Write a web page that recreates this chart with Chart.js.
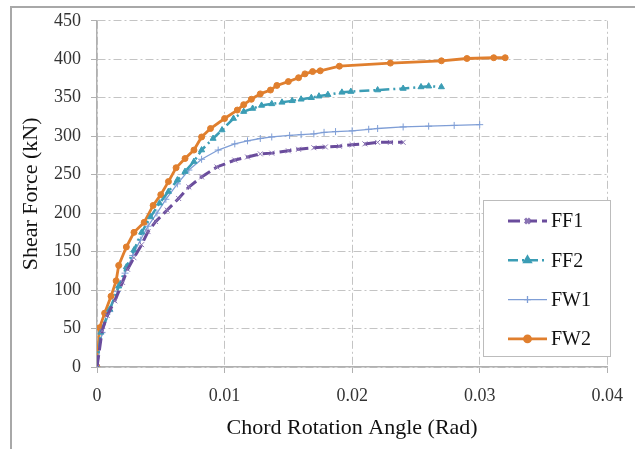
<!DOCTYPE html>
<html>
<head>
<meta charset="utf-8">
<script src="https://cdn.jsdelivr.net/npm/chart.js@4/dist/chart.umd.min.js"></script>
<style>
html, body { margin: 0; padding: 0; background: #fff; }
#wrap { position: relative; width: 635px; height: 449px; overflow: hidden; }
#frame { position: absolute; left: 10px; top: 6px; width: 700px; height: 500px;
         border-left: 2px solid #a8a8a8; border-top: 2px solid #a8a8a8; }
#canvas { position: absolute; left: 0; top: 0; }
</style>
</head>
<body>
<div id="wrap">
  <div id="frame"></div>
  <canvas id="canvas" width="635" height="449"></canvas>
</div>
<script>
// values (rotation in rad, force in kN)
const ff1X = [0, 0.0004, 0.0008, 0.0014, 0.002, 0.0024, 0.0029, 0.0035, 0.004, 0.0046, 0.0055, 0.0064, 0.0072, 0.0082, 0.0094, 0.0108, 0.0118, 0.0128, 0.0137, 0.015, 0.0158, 0.017, 0.0179, 0.019, 0.02, 0.021, 0.022, 0.023, 0.024];
const ff1Y = [0, 47, 67, 86, 110, 127, 142, 159, 176, 189, 204, 219, 234, 247, 260, 269, 273, 277, 278, 281, 283, 285, 286, 287, 289, 290, 292, 292, 292];

const ff2X = [0, 0.0003, 0.001, 0.0017, 0.0023, 0.0029, 0.0035, 0.0042, 0.0049, 0.0056, 0.0063, 0.0069, 0.0076, 0.0082, 0.0091, 0.0098, 0.0107, 0.0115, 0.0122, 0.0129, 0.0137, 0.0145, 0.0153, 0.016, 0.0168, 0.0174, 0.0181, 0.0192, 0.0199, 0.022, 0.024, 0.0254, 0.026, 0.027];
const ff2Y = [0, 45, 75, 105, 130, 152, 175, 195, 213, 228, 243, 254, 267, 282, 297, 308, 323, 332, 336, 340, 342, 344, 346, 348, 350, 352, 354, 357, 358, 360, 362, 364, 365, 364];

const fw1X = [0, 0.0004, 0.001, 0.0016, 0.0022, 0.0028, 0.0034, 0.004, 0.0047, 0.0054, 0.0063, 0.0072, 0.0082, 0.0095, 0.0108, 0.0118, 0.0128, 0.0137, 0.0151, 0.016, 0.017, 0.0178, 0.0187, 0.02, 0.0213, 0.022, 0.024, 0.026, 0.028, 0.03];
const fw1Y = [0, 45, 72, 98, 122, 145, 165, 183, 200, 218, 238, 256, 270, 282, 290, 294, 297, 299, 301, 302, 303, 305, 306, 307, 309, 310, 312, 313, 314, 315];

const fw2X = [0, 0.0002, 0.0006, 0.0011, 0.0015, 0.0017, 0.0023, 0.0029, 0.0037, 0.0044, 0.005, 0.0056, 0.0062, 0.0069, 0.0076, 0.0082, 0.0089, 0.01, 0.011, 0.0115, 0.0121, 0.0128, 0.0136, 0.0141, 0.015, 0.0158, 0.0163, 0.0169, 0.0175, 0.019, 0.023, 0.027, 0.029, 0.0311, 0.032];
const fw2Y = [0, 51, 70, 92, 112, 132, 156, 175, 188, 210, 224, 241, 259, 271, 282, 299, 310, 323, 334, 341, 348, 355, 360, 366, 371, 376, 381, 384, 385, 391, 395, 398, 401, 402, 402];

const xTicks = [0, 0.01, 0.02, 0.03, 0.04];
const yTicks = [0, 50, 100, 150, 200, 250, 300, 350, 400, 450];

const toPoints = (xs, ys) => xs.map((x, i) => ({x: x, y: ys[i]}));
const serif = '"Liberation Serif", "DejaVu Serif", serif';

// legend in a bordered box inside the plot, like the original
const boxLegend = {
    id: 'boxLegend',
    afterDraw(chart) {
        const ctx = chart.ctx;
        ctx.save();
        ctx.fillStyle = '#fff';
        ctx.fillRect(483.5, 200.5, 127, 156);
        ctx.strokeStyle = '#bcbcbc';
        ctx.lineWidth = 1;
        ctx.strokeRect(483.5, 200.5, 127, 156);
        chart.data.datasets.forEach((ds, i) => {
            const y = 221 + i * 39.3;
            ctx.strokeStyle = ds.borderColor;
            ctx.lineWidth = ds.borderWidth;
            ctx.setLineDash(ds.borderDash || []);
            ctx.beginPath();
            ctx.moveTo(508, y);
            ctx.lineTo(547, y);
            ctx.stroke();
            ctx.setLineDash([]);
            ctx.fillStyle = ds.pointBackgroundColor;
            ctx.strokeStyle = ds.pointBorderColor;
            Chart.helpers.drawPoint(ctx, {
                pointStyle: ds.pointStyle,
                radius: ds.pointRadius,
                borderWidth: ds.pointBorderWidth,
                rotation: 0
            }, 527.5, y);
            ctx.fillStyle = '#111';
            ctx.font = '20px ' + serif;
            ctx.textBaseline = 'middle';
            ctx.textAlign = 'left';
            ctx.fillText(ds.label, 551, y + 1);
        });
        ctx.restore();
    }
};

const ctx = document.getElementById('canvas').getContext('2d');
const myChart = new Chart(ctx, {
    type: 'scatter',
    data: {
        datasets: [{
            label: 'FF1',
            data: toPoints(ff1X, ff1Y),
            showLine: true,
            borderColor: '#6a4c9c',
            borderWidth: 3,
            borderDash: [12, 5],
            pointStyle: 'crossRot',
            pointRadius: 3.5,
            pointBorderWidth: 1,
            pointBorderColor: '#8a74b4',
            pointBackgroundColor: '#8a74b4'
        }, {
            label: 'FF2',
            data: toPoints(ff2X, ff2Y),
            showLine: true,
            borderColor: '#3b9db5',
            borderWidth: 2.5,
            borderDash: [10, 4, 2, 4],
            pointStyle: 'triangle',
            pointRadius: 3.5,
            pointBorderWidth: 1,
            pointBorderColor: '#3b9db5',
            pointBackgroundColor: '#3b9db5'
        }, {
            label: 'FW1',
            data: toPoints(fw1X, fw1Y),
            showLine: true,
            borderColor: '#7f9ed6',
            borderWidth: 1.3,
            pointStyle: 'cross',
            pointRadius: 3.5,
            pointBorderWidth: 1,
            pointBorderColor: '#7f9ed6',
            pointBackgroundColor: '#7f9ed6'
        }, {
            label: 'FW2',
            data: toPoints(fw2X, fw2Y),
            showLine: true,
            borderColor: '#e07f2e',
            borderWidth: 2.8,
            pointStyle: 'circle',
            pointRadius: 3,
            pointBorderWidth: 1,
            pointBorderColor: '#e07f2e',
            pointBackgroundColor: '#e07f2e'
        }]
    },
    options: {
        responsive: false,
        animation: false,
        layout: { padding: { top: 18, right: 17, left: 0, bottom: 0 } },
        plugins: {
            legend: { display: false },
            tooltip: { enabled: false }
        },
        scales: {
            x: {
                type: 'linear',
                min: 0,
                max: 0.04,
                afterBuildTicks: s => { s.ticks = xTicks.map(v => ({value: v})); },
                afterFit: s => { s.height = 82; },
                ticks: {
                    color: '#333',
                    font: { family: serif, size: 18 },
                    padding: 12,
                    maxRotation: 0,
                    callback: v => v === 0 ? '0' : v.toFixed(2)
                },
                grid: { color: '#c4c4c4', tickColor: '#b0b0b0', tickLength: 6, tickBorderDash: [] },
                border: { color: '#b0b0b0', width: 1.5, dash: [8, 3, 2, 3] },
                title: {
                    display: true,
                    text: 'Chord Rotation Angle (Rad)',
                    color: '#111',
                    font: { family: serif, size: 22 },
                    padding: { top: 0, bottom: 8 }
                }
            },
            y: {
                type: 'linear',
                min: 0,
                max: 450,
                afterBuildTicks: s => { s.ticks = yTicks.map(v => ({value: v})); },
                afterFit: s => { s.width = 97; },
                ticks: {
                    color: '#333',
                    font: { family: serif, size: 18 },
                    padding: 10
                },
                grid: { color: '#c4c4c4', tickColor: '#b0b0b0', tickLength: 6, tickBorderDash: [] },
                border: { color: '#b0b0b0', width: 1.5, dash: [8, 3, 2, 3] },
                title: {
                    display: true,
                    text: 'Shear Force (kN)',
                    color: '#111',
                    font: { family: serif, size: 22 },
                    padding: { top: 18, bottom: 0 }
                }
            }
        }
    },
    plugins: [boxLegend]
});
</script>
</body>
</html>
